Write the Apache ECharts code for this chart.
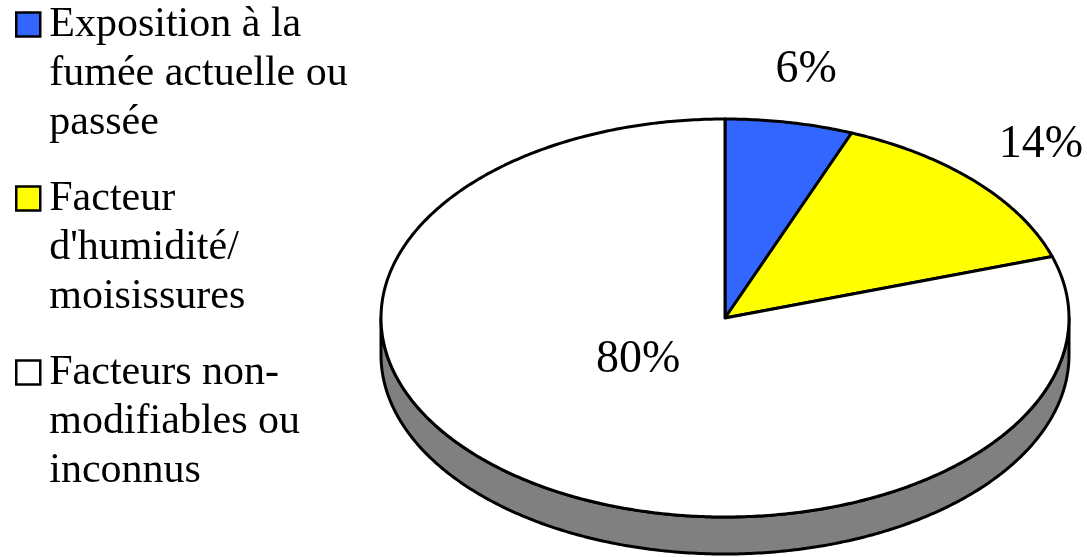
<!DOCTYPE html>
<html>
<head>
<meta charset="utf-8">
<script src="https://cdn.jsdelivr.net/npm/echarts@6/dist/echarts.min.js"></script>
<style>
  html, body { margin: 0; padding: 0; background: #fff; }
  #chart { width: 1087px; height: 557px; }
</style>
</head>
<body>
<div id="chart"></div>
<script>
// data
const categories = [
  'Exposition à la fumée actuelle ou passée',
  "Facteur d'humidité/ moisissures",
  'Facteurs non-modifiables ou inconnus'
];
const legendLines = [
  'Exposition à la\nfumée actuelle ou\npassée',
  "Facteur\nd'humidité/\nmoisissures",
  'Facteurs non-\nmodifiables ou\ninconnus'
];
const shares = [6, 14, 80];
const colors = ['#3366ff', '#ffff00', '#ffffff'];
const sideColors = ['#1a3380', '#808000', '#808080'];

const font = 'Liberation Serif, Times New Roman, serif';
const total = shares.reduce((a, b) => a + b, 0);

// pie geometry (tilted ellipse)
const geo = { cx: 725, cy: 318, rx: 344, ry: 199, depth: 37 };

function pt(a, dy) {
  return [geo.cx + geo.rx * Math.sin(a), geo.cy - geo.ry * Math.cos(a) + (dy || 0)];
}

function arc(a0, a1, dy) {
  const pts = [];
  const n = Math.max(2, Math.ceil((a1 - a0) / 0.01));
  for (let i = 0; i <= n; i++) pts.push(pt(a0 + (a1 - a0) * i / n, dy));
  return pts;
}

function renderSlice(params, api) {
  const idx = params.seriesIndex;
  let before = 0;
  for (let i = 0; i < idx; i++) before += shares[i];
  const a0 = before / total * Math.PI * 2;
  const a1 = (before + api.value(0)) / total * Math.PI * 2;
  const children = [];

  // visible side wall (front half only)
  const s = Math.max(a0, Math.PI / 2), e = Math.min(a1, Math.PI * 1.5);
  if (s < e) {
    const wall = arc(s, e, 0).concat(arc(s, e, geo.depth).reverse());
    children.push({
      type: 'polygon', z2: 1,
      shape: { points: wall },
      style: { fill: sideColors[idx], stroke: '#000', lineWidth: 3, lineJoin: 'round' }
    });
  }

  // top face
  children.push({
    type: 'polygon', z2: 2,
    shape: { points: [[geo.cx, geo.cy]].concat(arc(a0, a1, 0)) },
    style: { fill: colors[idx], stroke: '#000', lineWidth: 3, lineJoin: 'round' }
  });

  // percentage label
  const mid = (a0 + a1) / 2;
  const inside = api.value(0) / total > 0.5;
  const fx = inside ? 0.43 : 1.26, fy = inside ? 0.26 : 1.27;
  children.push({
    type: 'text', z2: 3,
    x: geo.cx + geo.rx * fx * Math.sin(mid),
    y: geo.cy - geo.ry * fy * Math.cos(mid),
    style: {
      text: Math.round(api.value(0) / total * 100) + '%',
      font: '46px ' + font, fill: '#000',
      align: 'center', verticalAlign: 'middle'
    }
  });
  return { type: 'group', children: children };
}

const chart = echarts.init(document.getElementById('chart'));
chart.setOption({
  animation: false,
  backgroundColor: '#fff',
  legend: {
    orient: 'vertical',
    left: 15, top: -98,
    height: 2000,
    padding: 0,
    // square path keeps its aspect, so the wider item box leaves a gap before the text
    icon: 'path://M0,0L1,0L1,1L0,1Z',
    itemWidth: 32, itemHeight: 24,
    itemGap: -71,
    itemStyle: { borderColor: '#000', borderWidth: 2.5 },
    selectedMode: false,
    // two empty lines on top so the marker lines up with the first text line
    formatter: name => '\n\n' + legendLines[categories.indexOf(name)],
    textStyle: {
      fontFamily: font, fontSize: 42, color: '#000',
      lineHeight: 49
    },
    data: categories
  },
  series: categories.map((name, i) => ({
    type: 'custom',
    name: name,
    coordinateSystem: 'none',
    itemStyle: { color: colors[i], borderColor: '#000', borderWidth: 2.5 },
    renderItem: renderSlice,
    data: [shares[i]]
  }))
});
</script>
</body>
</html>
